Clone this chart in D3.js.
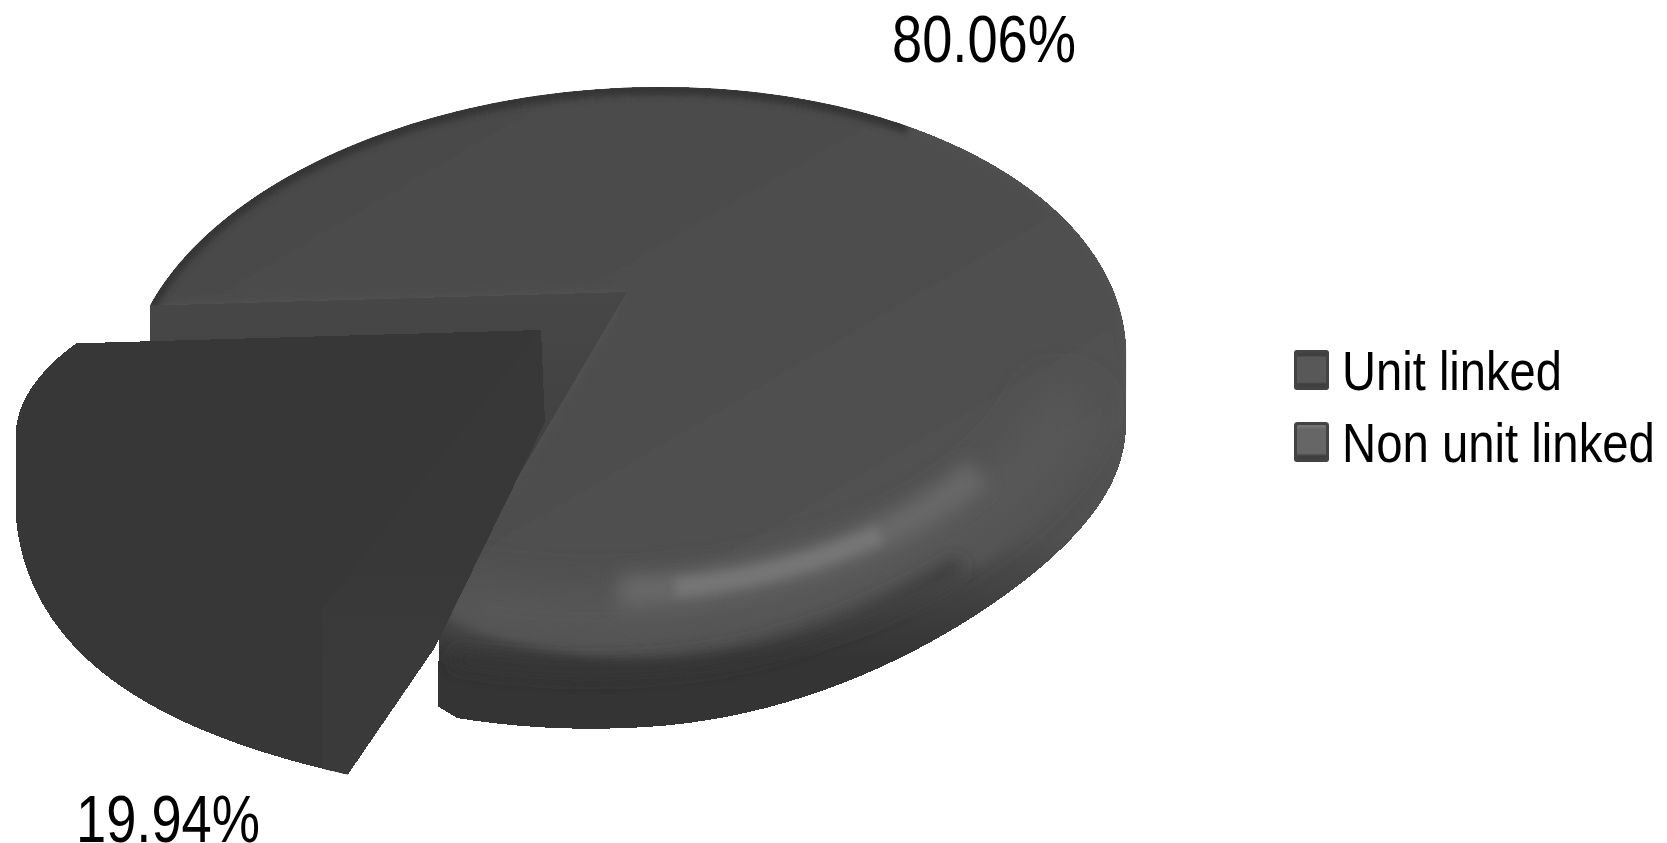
<!DOCTYPE html>
<html>
<head>
<meta charset="utf-8">
<script src="https://cdn.jsdelivr.net/npm/d3@7/dist/d3.min.js"></script>
<style>
  html, body { margin: 0; background: #fff; }
  svg { display: block; }
  text { font-family: "Liberation Sans", Arial, sans-serif; fill: #000; }
</style>
</head>
<body>
<svg id="chart" width="1667" height="843"></svg>
<script>
// Chart values
const categories = ["Unit linked", "Non unit linked"];
const shares = [19.94, 80.06];
const shareLabels = ["19.94%", "80.06%"];

const svg = d3.select("#chart");
const defs = svg.append("defs");

// Pie angles: the small slice opens just left of the front of the disc
const deg = Math.PI / 180;
const openAngle = 195.3;
const [smallArc, largeArc] = d3.pie().sort(null).value(d => d)
  .startAngle(openAngle * deg).endAngle((openAngle + 360) * deg)(shares);

// Perspective projection of the unit disc onto the page
const K = 0.288, A = 478, B = 264;
const project = (angle, r, o) => {
  const u = r * Math.sin(angle), v = -r * Math.cos(angle), w = 1 - K * v;
  return [o.x + o.s * (A * u + o.c * v) / w, o.y + o.s * B * v / w];
};
const mainDisc = { x: 636, y: 292, s: 1, c: -32, apex: [627, 292], depth: 66, minX: 438 };
const slice = { x: 551, y: 330, s: 1.065, c: -12, apex: [541, 330], depth: 69, apexBase: [545, 422] };

const line = d3.line();
const closed = pts => line(pts) + "Z";
const ease = (a, from, to) => {
  const t = Math.max(0, Math.min(1, (a - from) / (to - from)));
  return t * t;
};
// Smooth hump between two angles in degrees, flat where it meets zero
const bump = (a, from, to) => {
  const d = ((a / deg) % 360 + 360) % 360;
  return d > from && d < to ? Math.sin(Math.PI * (d - from) / (to - from)) ** 2 : 0;
};

// Rim radius eases inward near the cut ends, which rounds the corners
const largeRadius = a => 1 - 0.07 * ease(a, largeArc.endAngle - 25 * deg, largeArc.endAngle);
const smallRadius = a => 1 - 0.08 * ease(a, smallArc.endAngle - 18 * deg, smallArc.endAngle);

// Points along a rim; dy may vary with the angle to model the rounded body
const sweep = (a0, a1, radius, o, dy = () => 0) =>
  d3.range(0, 161).map(i => {
    const a = a0 + (a1 - a0) * i / 160;
    const p = project(a, typeof radius === "function" ? radius(a) : radius, o);
    return [p[0], p[1] + dy(a)];
  });

// Large slice outline: rim round to its rightmost point, then the lower edge of the wall
const largeDepth = a => mainDisc.depth - 18 * bump(a, 100, 175);
const largeRim = sweep(largeArc.startAngle, largeArc.endAngle, largeRadius, mainDisc);
const largeBase = sweep(largeArc.startAngle, largeArc.endAngle, 1, mainDisc, largeDepth)
  .map(p => {
    // Square the foot off at the cut, with a small rounded corner
    const x = Math.max(p[0], mainDisc.minX);
    const lift = Math.max(0, 1 - (x - mainDisc.minX) / 20);
    return [x, p[1] - 8 * lift * lift];
  });
const turn = d3.maxIndex(largeRim, p => p[0]);
const corner = largeRim[largeRim.length - 1];
const largeOutline = [...largeRim.slice(0, turn + 1), ...largeBase.slice(turn), corner, mainDisc.apex];
const largeTop = [mainDisc.apex, ...largeRim];
const cutBacking = [
  mainDisc.apex, corner,
  [largeRim[0][0], largeRim[0][1] + mainDisc.depth + 10],
  largeRim[0]
];

// Small slice: the hull of both rims gives its smooth bulging silhouette
const smallDepth = a => slice.depth + 12 * bump(a, openAngle, openAngle + 72);
const smallRim = sweep(smallArc.startAngle, smallArc.endAngle, smallRadius, slice);
const smallBase = sweep(smallArc.startAngle, smallArc.endAngle, smallRadius, slice, smallDepth);
const frontBase = smallBase[0];
// The cut edge bows slightly outward about two thirds of the way to the front
const cutBulge = [
  slice.apexBase[0] + (frontBase[0] - slice.apexBase[0]) * 0.64 + 16,
  slice.apexBase[1] + (frontBase[1] - slice.apexBase[1]) * 0.64
];
const smallOutline = d3.polygonHull([slice.apex, slice.apexBase, cutBulge, ...smallRim, ...smallBase]);
const cutFace = [slice.apex, slice.apexBase, cutBulge, frontBase, [frontBase[0] - 26, frontBase[1]], [frontBase[0] - 26, frontBase[1] - 165]];

// Gradients and soft-edge filters
const gradient = (id, stops, x2 = 0, y2 = 1) => {
  const g = defs.append("linearGradient").attr("id", id)
    .attr("x1", 0).attr("y1", 0).attr("x2", x2).attr("y2", y2);
  stops.forEach(([o, c]) => g.append("stop").attr("offset", o).attr("stop-color", c));
  return g;
};
gradient("topFill", [[0, "#484848"], [0.55, "#4e4e4e"], [1, "#555555"]], 1, 1);
gradient("wallFill", [[0, "#545454"], [0.45, "#505050"], [0.68, "#3c3c3c"], [0.8, "#343434"], [1, "#343434"]])
  .attr("gradientUnits", "userSpaceOnUse").attr("x1", 0).attr("x2", 0).attr("y1", 380).attr("y2", 730);
gradient("backFill", [[0, "#474747"], [0.5, "#414141"], [1, "#393939"]]);
gradient("faceFill", [[0, "#383838"], [0.5, "#383838"], [0.75, "#3a3a3a"], [1, "#3a3a3a"]]);
gradient("swatchUnit", [[0, "#3f3f3f"], [0.14, "#3f3f3f"], [0.18, "#585858"], [0.8, "#585858"], [0.85, "#3f3f3f"], [1, "#3f3f3f"]]);
gradient("swatchNon", [[0, "#747474"], [0.12, "#747474"], [0.18, "#666666"], [0.78, "#666666"], [0.85, "#3e3e3e"], [1, "#3e3e3e"]]);

[["blur3", 3], ["blur5", 5], ["blur9", 9], ["blur20", 20]].forEach(([id, s]) => {
  defs.append("filter").attr("id", id).attr("filterUnits", "userSpaceOnUse")
    .attr("x", 0).attr("y", 0).attr("width", 1667).attr("height", 843)
    .append("feGaussianBlur").attr("stdDeviation", s);
});

// Large slice
svg.append("path").attr("d", closed(cutBacking))
  .attr("fill", "url(#backFill)").attr("shape-rendering", "crispEdges");

defs.append("clipPath").attr("id", "largeClip").append("path").attr("d", closed(largeOutline));
svg.append("path").attr("d", closed(largeOutline))
  .attr("fill", "url(#wallFill)").attr("shape-rendering", "crispEdges");

const shaded = svg.append("g").attr("clip-path", "url(#largeClip)");
shaded.append("path").attr("d", closed(largeTop))
  .attr("fill", "url(#topFill)").attr("filter", "url(#blur5)");

// Rounded rim: a dark band along the edge, then the light streak inside it
const stroked = (pts, color, width, filter) => shaded.append("path")
  .attr("d", line(pts)).attr("fill", "none").attr("stroke", color)
  .attr("stroke-width", width).attr("filter", `url(#${filter})`);
stroked(sweep(largeArc.startAngle, 400 * deg, 1.0, mainDisc, () => 2), "#343434", 12, "blur3");
stroked(sweep(112 * deg, 195 * deg, 0.91, mainDisc), "#585858", 50, "blur20");
stroked(sweep(132 * deg, 178 * deg, 0.855, mainDisc), "#686868", 32, "blur9");
stroked(sweep(148 * deg, 172 * deg, 0.855, mainDisc), "#767676", 18, "blur5");
stroked(sweep(145 * deg, 192 * deg, 1.0, mainDisc, a => 6 - 18 * bump(a, 100, 175)), "#343434", 14, "blur9");

// Pulled-out small slice
defs.append("clipPath").attr("id", "smallClip").append("path").attr("d", closed(smallOutline));
svg.append("path").attr("d", closed(smallOutline))
  .attr("fill", "#373737").attr("shape-rendering", "crispEdges");
svg.append("g").attr("clip-path", "url(#smallClip)")
  .append("path").attr("d", closed(cutFace))
  .attr("fill", "url(#faceFill)").attr("shape-rendering", "crispEdges");

// Draws a label stretched horizontally so that it fills the given width
const fitText = (sel, x, y, width) => {
  sel.attr("transform", `translate(${x},${y})`);
  const natural = sel.node().getComputedTextLength();
  sel.attr("transform", `translate(${x},${y}) scale(${width / natural},1)`);
};

// Percentage labels
fitText(svg.append("text").text(shareLabels[1]).attr("font-size", 66), 892, 62, 184);
fitText(svg.append("text").text(shareLabels[0]).attr("font-size", 66), 76, 842, 184);

// Legend
const legendY = d3.scalePoint().domain(categories).range([390, 462]);
const swatchFills = ["url(#swatchUnit)", "url(#swatchNon)"];
const legendWidths = [220, 313];
const legend = svg.append("g").selectAll("g").data(categories).join("g")
  .attr("transform", d => `translate(0,${legendY(d)})`);
legend.append("rect").attr("x", 1294).attr("y", -40).attr("width", 35).attr("height", 40)
  .attr("rx", 3).attr("fill", (d, i) => swatchFills[i]);
legend.append("rect").attr("x", 1295.5).attr("y", -38.5).attr("width", 32).attr("height", 37)
  .attr("rx", 3).attr("fill", "none").attr("stroke", "#434343").attr("stroke-width", 3);
legend.append("text").text(d => d).attr("font-size", 56)
  .each(function (d, i) { fitText(d3.select(this), 1342, 0, legendWidths[i]); });
</script>
</body>
</html>
